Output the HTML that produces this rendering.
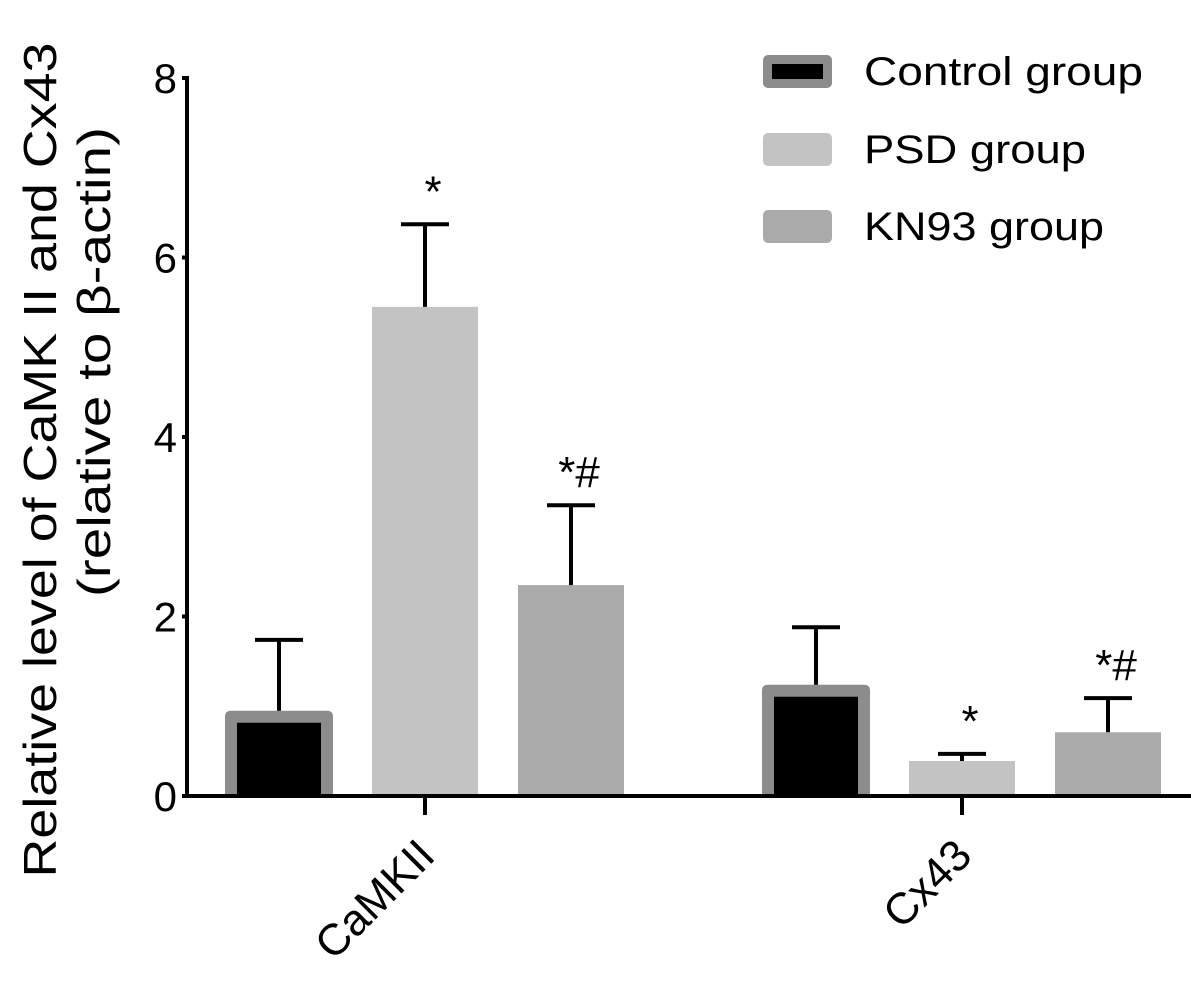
<!DOCTYPE html>
<html><head><meta charset="utf-8"><style>
html,body{margin:0;padding:0;background:#fff;}
svg{display:block;font-family:"Liberation Sans",Arial,sans-serif;}
</style></head><body>
<svg id="chart" width="1191" height="984" viewBox="0 0 1191 984" xmlns="http://www.w3.org/2000/svg">
<g id="bars"></g>
<g id="axes"></g>
<g id="legend"></g>
</svg>
<script>
const categories = ["CaMKII", "Cx43"];
const seriesNames = ["Control group", "PSD group", "KN93 group"];
const controlValues = [0.95, 1.24];
const psdValues = [5.45, 0.39];
const kn93Values = [2.35, 0.71];
const controlErr = [0.79, 0.64];
const psdErr = [0.92, 0.08];
const kn93Err = [0.89, 0.38];
const sigLabels = [["", "*", "*#"], ["", "*", "*#"]];
const yTicks = [0, 2, 4, 6, 8];

const NS = "http://www.w3.org/2000/svg";
const x0 = 187, y0 = 796, yTop = 78, yMax = 8;
function yScale(v){ return y0 - (v / yMax) * (y0 - yTop); }
const groupCenters = [425, 962];
const barOffsets = [-146, 0, 146];
const barW = 106;
function xBar(ci, si){ return groupCenters[ci] + barOffsets[si]; }
function mk(tag, attrs, parent){ const e = document.createElementNS(NS, tag); for (const k in attrs) e.setAttribute(k, attrs[k]); parent.appendChild(e); return e; }

const fills = ["#000", "#c3c3c3", "#aaaaaa"];
const vals = [controlValues, psdValues, kn93Values];
const errs = [controlErr, psdErr, kn93Err];
const barsG = document.getElementById("bars");
const axesG = document.getElementById("axes");
const legG = document.getElementById("legend");

categories.forEach((c, ci) => {
  vals.forEach((arr, si) => {
    const v = arr[ci], cx = xBar(ci, si), top = yScale(v);
    let r;
    if (si === 0) {
      const o = mk("path", {d: `M${cx-54} ${y0} V${top+6} Q${cx-54} ${top} ${cx-48} ${top} H${cx+48} Q${cx+54} ${top} ${cx+54} ${top+6} V${y0} Z`, fill: "#8c8c8c"}, barsG);
      
      
      r = mk("rect", {x: cx - 42, y: top + 12, width: 84, height: Math.max(0, y0 - top - 12), fill: "#000"}, barsG);
    } else {
      r = mk("rect", {x: cx - barW/2, y: top, width: barW, height: y0 - top, fill: fills[si]}, barsG);
    }
    
    
    const et = yScale(v + errs[si][ci]);
    const eb = mk("path", {d: `M${cx} ${top} V${et} M${cx-24} ${et} H${cx+24}`, stroke: "#000", "stroke-width": 4, fill: "none"}, barsG);
    
    
    if (sigLabels[ci][si]) {
      const t = mk("text", {x: cx + 8, y: et - 18, "text-anchor": "middle", "font-size": 44}, barsG);
      t.textContent = sigLabels[ci][si];
      
      
    }
  });
  const tk = mk("line", {x1: groupCenters[ci], x2: groupCenters[ci], y1: y0, y2: 815, stroke: "#000", "stroke-width": 4}, axesG);
  
  
  const lx = groupCenters[ci] + 12, ly = 858;
  const lbl = mk("text", {x: lx, y: ly, "text-anchor": "end", "font-size": 44, transform: `rotate(-45 ${lx} ${ly})`}, axesG);
  lbl.textContent = c;
  
  
});

const ya = mk("line", {x1: x0, x2: x0, y1: yTop - 2, y2: y0 + 2, stroke: "#000", "stroke-width": 4}, axesG);


const xa = mk("line", {x1: x0 - 2, x2: 1191, y1: y0, y2: y0, stroke: "#000", "stroke-width": 4}, axesG);


yTicks.forEach(v => {
  const y = yScale(v);
  const l = mk("line", {x1: 182, x2: x0, y1: y, y2: y, stroke: "#000", "stroke-width": 4}, axesG);
  
  
  const t = mk("text", {x: 177, y: y + 15, "text-anchor": "end", "font-size": 42}, axesG);
  t.textContent = v;
  
  
});
const yt1 = mk("text", {transform: "translate(56 460) rotate(-90)", "text-anchor": "middle", "font-size": 46, textLength: 835, lengthAdjust: "spacingAndGlyphs"}, axesG);
yt1.textContent = "Relative level of CaMK II and Cx43";


const yt2 = mk("text", {transform: "translate(110 362) rotate(-90)", "text-anchor": "middle", "font-size": 46, textLength: 470, lengthAdjust: "spacingAndGlyphs"}, axesG);
yt2.textContent = "(relative to \u03b2-actin)";



const legY = [55, 133, 210];
const legLen = [279, 222, 240];
seriesNames.forEach((n, i) => {
  let r;
  if (i === 0) {
    const o = mk("rect", {x: 763, y: legY[i], width: 69, height: 33, fill: "#8c8c8c", rx: 5}, legG);
    
    
    r = mk("rect", {x: 772, y: legY[i] + 9, width: 51, height: 15, fill: "#000"}, legG);
  } else r = mk("rect", {x: 763, y: legY[i], width: 69, height: 33, fill: fills[i], rx: 5}, legG);
  
  
  const t = mk("text", {x: 864, y: legY[i] + 30, "font-size": 40, textLength: legLen[i], lengthAdjust: "spacingAndGlyphs"}, legG);
  t.textContent = n;
  
  
});
</script>
</body></html>
